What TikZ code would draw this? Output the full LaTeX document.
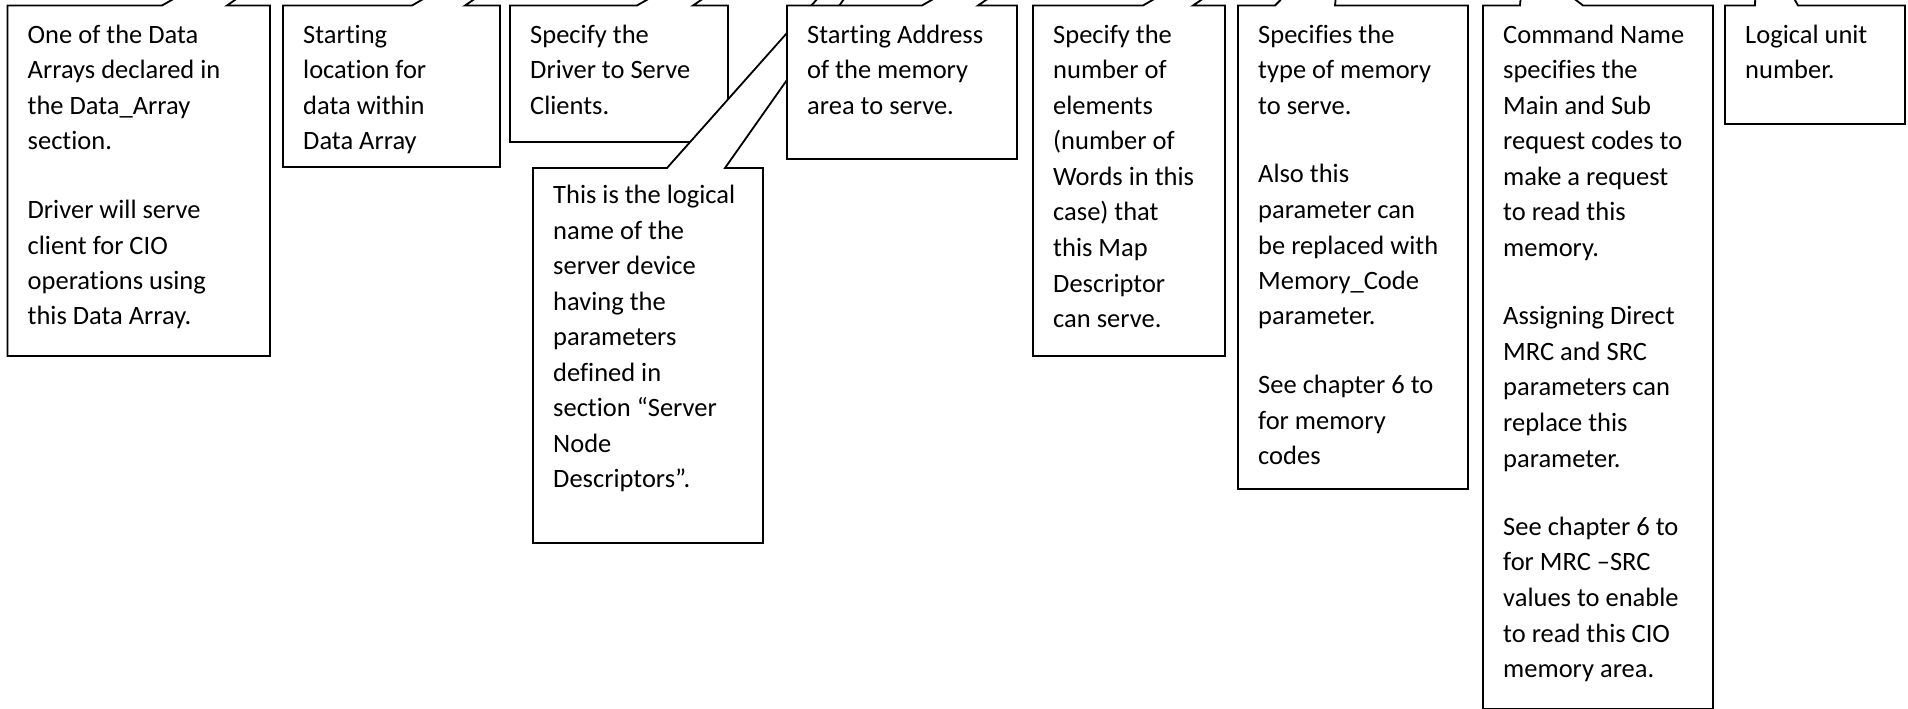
\documentclass[tikz,border=0pt]{standalone}
\usepackage{fontspec}
\setmainfont{Carlito}[RawFeature={-liga;-clig;-calt;-dlig}]
\newcommand{\tl}[1]{\hbox{#1}}
\newcommand{\pgap}{\vskip 33pt}
\newcommand{\blines}[1]{\vtop{\baselineskip=35.5pt\lineskiplimit=-100pt #1}}
\newcommand{\cbox}[9]{%
  \draw[box] (#1,#2) -- (#5,#2) -- (#7,#8) -- (#6,#2) -- (#3,#2) -- (#3,#4) -- (#1,#4) -- cycle;}
\tikzset{
  box/.style={draw=black, fill=white, line width=1.8pt, line join=miter},
  txt/.style={anchor=base west, inner sep=0pt, font=\fontsize{26.5}{35.5}\selectfont}
}
\begin{document}
\begin{tikzpicture}[x=1pt,y=-1pt]
\useasboundingbox (0,0) rectangle (1908,709);
\fill[white] (0,0) rectangle (1908,709);
\clip (0,0) rectangle (1908,709);
% box 1
\cbox{7.5}{5.5}{270}{356}{162}{227}{514.5}{-194.5}{}
\node[txt] (t1) at (27.5,43.5) {\blines{\tl{One of the Data}\tl{Arrays declared in}\tl{the Data\_Array}\tl{section.}\pgap\tl{Driver will serve}\tl{client for CIO}\tl{operations using}\tl{this Data Array.}}};
% box 2
\cbox{283}{5.5}{500}{167}{412}{465}{758.5}{-194.5}{}
\node[txt] (t2) at (303,43.5) {\blines{\tl{Starting}\tl{location for}\tl{data within}\tl{Data Array}}};
% box 3
\cbox{510}{5.5}{728}{142}{637}{693}{985}{-194.5}{}
\node[txt] (t3) at (530,43.5) {\blines{\tl{Specify the}\tl{Driver to Serve}\tl{Clients.}}};
% logical name box
\cbox{533}{168}{763}{543}{667}{725}{946}{-146}{}
\node[txt] (tl) at (553,203.5) {\blines{\tl{This is the logical}\tl{name of the}\tl{server device}\tl{having the}\tl{parameters}\tl{defined in}\tl{section “Server}\tl{Node}\tl{Descriptors”.}}};
% box 4
\cbox{787}{5.5}{1017}{159}{922}{978}{1270}{-194.5}{}
\node[txt] (t4) at (807,43.5) {\blines{\tl{Starting Address}\tl{of the memory}\tl{area to serve.}}};
% box 5
\cbox{1033}{5.5}{1225}{356}{1143}{1193}{1488}{-194.5}{}
\node[txt] (t5) at (1053,43.5) {\blines{\tl{Specify the}\tl{number of}\tl{elements}\tl{(number of}\tl{Words in this}\tl{case) that}\tl{this Map}\tl{Descriptor}\tl{can serve.}}};
% box 6
\cbox{1238}{5.5}{1468}{489}{1275}{1335}{1342}{-62}{}
\node[txt] (t6) at (1258,43.5) {\blines{\tl{Specifies the}\tl{type of memory}\tl{to serve.}\pgap\tl{Also this}\tl{parameter can}\tl{be replaced with}\tl{Memory\_Code}\tl{parameter.}\pgap\tl{See chapter 6 to}\tl{for memory}\tl{codes}}};
% box 7
\cbox{1483}{5.5}{1713}{709}{1520}{1583}{1524}{-40}{}
\node[txt] (t7) at (1503,43.5) {\blines{\tl{Command Name}\tl{specifies the}\tl{Main and Sub}\tl{request codes to}\tl{make a request}\tl{to read this}\tl{memory.}\pgap\tl{Assigning Direct}\tl{MRC and SRC}\tl{parameters can}\tl{replace this}\tl{parameter.}\pgap\tl{See chapter 6 to}\tl{for MRC –SRC}\tl{values to enable}\tl{to read this CIO}\tl{memory area.}}};
% box 8
\cbox{1725}{5.5}{1905}{124}{1755}{1798}{1757}{-67}{}
\node[txt] (t8) at (1745,43.5) {\blines{\tl{Logical unit}\tl{number.}}};
\end{tikzpicture}
\end{document}
